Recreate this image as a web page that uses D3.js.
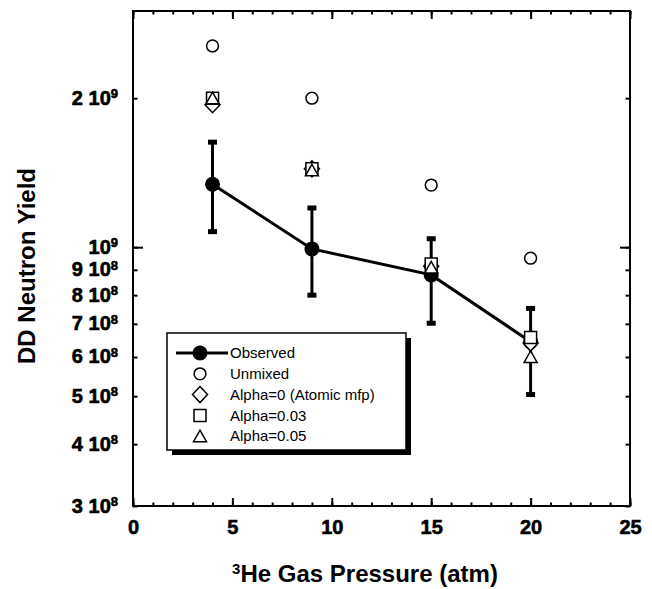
<!DOCTYPE html>
<html>
<head>
<meta charset="utf-8">
<script src="https://cdn.jsdelivr.net/npm/d3@7"></script>
<style>
  html, body { margin: 0; padding: 0; background: #fff; }
  svg { display: block; }
  text { font-family: "Liberation Sans", Arial, Helvetica, sans-serif; }
</style>
</head>
<body>
<svg id="chart" width="652" height="589"></svg>
<script>
// ---- data ----
const pressure = [4, 9, 15, 20];
const observed = [1.34e9, 9.92e8, 8.79e8, 6.44e8];
const observedHigh = [1.63e9, 1.20e9, 1.04e9, 7.52e8];
const observedLow = [1.075e9, 8.0e8, 7.02e8, 5.04e8];
const unmixed = [2.55e9, 2.0e9, 1.335e9, 9.5e8];
const alpha0 = [1.94e9, 1.44e9, 9.15e8, 6.4e8];
const alpha003 = [2.0e9, 1.44e9, 9.25e8, 6.57e8];
const alpha005 = [2.0e9, 1.43e9, 9.1e8, 6.0e8];

const xTicksMajor = [0, 5, 10, 15, 20, 25];
const xTicksMinor = d3.range(0, 26, 1);
const yTickValues = [3e8, 4e8, 5e8, 6e8, 7e8, 8e8, 9e8, 1e9, 2e9];
const yTickCoef = ["3", "4", "5", "6", "7", "8", "9", "", "2"];
const yTickExp = ["8", "8", "8", "8", "8", "8", "8", "9", "9"];
const yTicksMajor = [1e9];

const legendLabels = ["Observed", "Unmixed", "Alpha=0 (Atomic mfp)", "Alpha=0.03", "Alpha=0.05"];
const legendSymbols = ["observed", "circle", "diamond", "square", "triangle"];

// ---- layout ----
const svg = d3.select("#chart");
const L = 133, R = 630, T = 11, B = 506;

const x = d3.scaleLinear().domain([0, 25]).range([L, R]);
const y = d3.scaleLog().domain([3e8, 3e9]).range([B, T]);

// plot frame
svg.append("rect").attr("x", L).attr("y", T).attr("width", R - L).attr("height", B - T)
  .attr("fill", "none").attr("stroke", "#000").attr("stroke-width", 2);

function styleAxis(g) {
  g.select(".domain").remove();
  g.selectAll(".tick line").attr("stroke", "#000").attr("stroke-width", 2);
}
function heavy(sel) {
  sel.attr("stroke", "#000").attr("stroke-width", 0.6).attr("paint-order", "stroke");
}

// x axis bottom: minor + major
svg.append("g").attr("transform", `translate(0,${B})`)
  .call(d3.axisBottom(x).tickValues(xTicksMinor).tickSizeInner(-3.5).tickSizeOuter(0).tickFormat(""))
  .call(styleAxis);
svg.append("g").attr("transform", `translate(0,${B})`)
  .call(d3.axisBottom(x).tickValues(xTicksMajor).tickSizeInner(-8).tickSizeOuter(0).tickPadding(14).tickFormat(d3.format("d")))
  .call(styleAxis)
  .call(g => g.selectAll("text").attr("fill", "#000").attr("font-size", 20).attr("font-weight", "bold").call(heavy));
// x axis top
svg.append("g").attr("transform", `translate(0,${T})`)
  .call(d3.axisTop(x).tickValues(xTicksMinor).tickSizeInner(-3.5).tickSizeOuter(0).tickFormat(""))
  .call(styleAxis);
svg.append("g").attr("transform", `translate(0,${T})`)
  .call(d3.axisTop(x).tickValues(xTicksMajor).tickSizeInner(-8).tickSizeOuter(0).tickFormat(""))
  .call(styleAxis);

// y axis left
const yLeft = svg.append("g").attr("transform", `translate(${L},0)`)
  .call(d3.axisLeft(y).tickValues(yTickValues).tickSizeInner(-4.5).tickSizeOuter(0).tickPadding(15).tickFormat(""))
  .call(styleAxis);
yLeft.selectAll(".tick text").each(function(d, i) {
  const t = d3.select(this).attr("fill", "#000").attr("font-weight", "bold").attr("font-size", 20)
    .attr("dy", "0.3em").call(heavy);
  t.text(null);
  t.append("tspan").text((yTickCoef[i] ? yTickCoef[i] + " " : "") + "10");
  t.append("tspan").attr("dy", "-0.5em").attr("font-size", 13).text(yTickExp[i]);
});
svg.append("g").attr("transform", `translate(${L},0)`)
  .call(d3.axisLeft(y).tickValues(yTicksMajor).tickSizeInner(-10).tickSizeOuter(0).tickFormat(""))
  .call(styleAxis);
// y axis right
svg.append("g").attr("transform", `translate(${R},0)`)
  .call(d3.axisRight(y).tickValues(yTickValues).tickSizeInner(-4.5).tickSizeOuter(0).tickFormat(""))
  .call(styleAxis);
svg.append("g").attr("transform", `translate(${R},0)`)
  .call(d3.axisRight(y).tickValues(yTicksMajor).tickSizeInner(-10).tickSizeOuter(0).tickFormat(""))
  .call(styleAxis);

// axis titles
const xt = svg.append("text").attr("x", 365).attr("y", 582).attr("text-anchor", "middle")
  .attr("font-size", 24).attr("font-weight", "bold").attr("fill", "#000");
xt.append("tspan").attr("font-size", 15).attr("dy", "-0.55em").text("3");
xt.append("tspan").attr("dy", "0.34em").text("He Gas Pressure (atm)");

svg.append("text").attr("transform", "translate(35,266) rotate(-90)").attr("text-anchor", "middle")
  .attr("font-size", 24).attr("font-weight", "bold").attr("fill", "#000").text("DD Neutron Yield");

// ---- marks ----
const obsData = pressure.map((p, i) => ({ p, v: observed[i], hi: observedHigh[i], lo: observedLow[i] }));

// line
svg.append("path").datum(obsData)
  .attr("d", d3.line().x(d => x(d.p)).y(d => y(d.v)))
  .attr("fill", "none").attr("stroke", "#000").attr("stroke-width", 3);

// error bars
const eb = svg.append("g");
eb.selectAll("line.bar").data(obsData).join("line")
  .attr("x1", d => x(d.p)).attr("x2", d => x(d.p))
  .attr("y1", d => y(d.hi)).attr("y2", d => y(d.lo))
  .attr("stroke", "#000").attr("stroke-width", 3);
eb.selectAll("rect.capHi").data(obsData).join("rect")
  .attr("x", d => x(d.p) - 4.5).attr("y", d => y(d.hi) - 2.5).attr("width", 9).attr("height", 5).attr("fill", "#000");
eb.selectAll("rect.capLo").data(obsData).enter().append("rect")
  .attr("x", d => x(d.p) - 4.5).attr("y", d => y(d.lo) - 2.5).attr("width", 9).attr("height", 5).attr("fill", "#000");

// observed circles
svg.append("g").selectAll("circle").data(obsData).join("circle")
  .attr("cx", d => x(d.p)).attr("cy", d => y(d.v)).attr("r", 7.5).attr("fill", "#000");

// symbol path generators
function symbolPath(type) {
  if (type === "circle") return d3.symbol().type(d3.symbolCircle).size(110)();
  if (type === "diamond") return "M0,-8L7.5,0L0,8L-7.5,0Z";
  if (type === "square") return "M-6,-6H6V6H-6Z";
  if (type === "triangle") return "M0,-6L6.5,5.5H-6.5Z";
  return "";
}

function drawSeries(values, type) {
  svg.append("g").selectAll("path").data(pressure.map((p, i) => ({ p, v: values[i] }))).join("path")
    .attr("transform", d => `translate(${x(d.p)},${y(d.v)})`)
    .attr("d", symbolPath(type))
    .attr("fill", "#fff").attr("stroke", "#000").attr("stroke-width", 1.5);
}
drawSeries(unmixed, "circle");
drawSeries(alpha0, "diamond");
drawSeries(alpha003, "square");
drawSeries(alpha005, "triangle");

// ---- legend ----
const lg = svg.append("g");
const lgX = 167, lgY = 333, lgW = 239, lgH = 117;
lg.append("rect").attr("x", lgX + 5).attr("y", lgY + 5).attr("width", lgW).attr("height", lgH).attr("fill", "#000");
lg.append("rect").attr("x", lgX).attr("y", lgY).attr("width", lgW).attr("height", lgH)
  .attr("fill", "#fff").attr("stroke", "#000").attr("stroke-width", 1.5);
const rows = lg.selectAll("g.row").data(legendLabels).join("g")
  .attr("transform", (d, i) => `translate(${lgX + 33},${lgY + 20 + i * 20.8})`);
rows.each(function(d, i) {
  const g = d3.select(this);
  const type = legendSymbols[i];
  if (type === "observed") {
    g.append("line").attr("x1", -24).attr("x2", 28).attr("stroke", "#000").attr("stroke-width", 3);
    g.append("circle").attr("r", 7.5).attr("fill", "#000");
  } else {
    g.append("path").attr("d", symbolPath(type)).attr("fill", "#fff").attr("stroke", "#000").attr("stroke-width", 1.5);
  }
  g.append("text").attr("x", 30).attr("dy", "0.35em").attr("font-size", 15).attr("fill", "#000").text(d);
});
</script>
</body>
</html>
